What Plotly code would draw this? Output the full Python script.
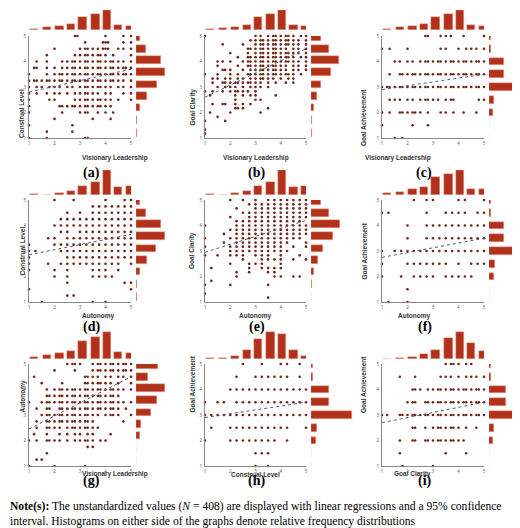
import plotly.graph_objects as go

# bar centres shared by the marginal histograms
bins9 = [1.2, 1.7, 2.2, 2.65, 3.1, 3.6, 4.05, 4.5, 4.95]
bins_ga = [1.0, 1.5, 2.0, 2.5, 3.0, 3.5, 4.0, 4.5, 5.0]

x_titles = ["Visionary Leadership", "Visionary Leadership", "Visionary Leadership",
            "Autonomy", "Autonomy", "Autonomy",
            "Visionary Leadership", "Construal Level", "Goal Clarity"]
y_titles = ["Construal Level", "Goal Clarity", "Goal Achievement",
            "Construal Level", "Goal Clarity", "Goal Achievement",
            "Autonomy", "Goal Achievement", "Goal Achievement"]
labels = ["(a)", "(b)", "(c)", "(d)", "(e)", "(f)", "(g)", "(h)", "(i)"]

# regression line end points at x=1 and x=5
reg_y1 = [2.8, 2.6, 2.9, 2.85, 2.95, 2.75, 2.45, 2.9, 2.7]
reg_y5 = [3.7, 4.5, 3.5, 3.65, 4.2, 3.5, 4.5, 3.5, 3.5]

top_hist = [
    [3, 6, 10, 13, 30, 37, 46, 11, 10],
    [3, 5, 8, 12, 32, 40, 48, 12, 10],
    [3, 6, 10, 13, 30, 37, 46, 11, 10],
    [1, 0.5, 3, 6, 15, 20, 39, 12, 15],
    [1, 0.5, 3, 6, 15, 20, 39, 12, 15],
    [3, 5, 8, 11, 25, 30, 35, 9, 8],
    [3, 6, 10, 13, 30, 37, 46, 11, 10],
    [1, 1, 3, 9, 20, 28, 26, 9, 3],
    [0.5, 1, 2, 5, 10, 23, 30, 17, 9],
]
right_hist = [
    [0.5, 0.5, 3, 9, 17, 24, 20, 8, 3],
    [0.5, 1, 3, 6, 10, 20, 28, 18, 10],
    [0.5, 0.5, 5, 6, 50, 19, 19, 2, 2],
    [0.5, 1, 3, 9, 16, 24, 20, 8, 3],
    [0.5, 1, 3, 7, 12, 22, 30, 18, 10],
    [0.5, 0.5, 5, 6, 40, 16, 16, 2, 2],
    [0.5, 0.5, 4, 6, 17, 23, 33, 13, 25],
    [0.5, 0.5, 5, 6, 44, 19, 19, 2, 2],
    [0.5, 0.5, 5, 6, 44, 19, 19, 2, 2],
]
right_is_ga = [False, False, True, False, False, True, False, True, True]

# scatter points: rows of (y, [x values])
pts_a = [
    (5, [2.8, 2.9, 4.0, 4.7, 5.0]),
    (4.75, [3.2, 3.9, 4.0, 4.1, 4.7, 5.0]),
    (4.5, [2.0, 3.0, 3.2, 3.3, 3.5, 3.7, 3.9, 4.0, 4.1, 4.5, 4.7, 5.0]),
    (4.25, [1.7, 2.8, 3.0, 3.2, 3.3, 3.5, 3.7, 3.8, 4.0, 4.3, 5.0]),
    (4.0, [1.3, 1.7, 2.3, 2.5, 2.7, 2.8, 3.0, 3.2, 3.3, 3.5, 3.7, 3.8, 4.0, 4.2, 4.3, 4.5, 4.7, 5.0]),
    (3.75, [1.2, 1.3, 1.7, 2.0, 2.3, 2.5, 2.7, 2.8, 3.0, 3.2, 3.3, 3.5, 3.7, 3.8, 4.0, 4.2, 4.3, 4.5, 4.7, 4.8, 5.0]),
    (3.5, [1.0, 1.7, 2.0, 2.2, 2.3, 2.5, 2.7, 2.8, 3.0, 3.2, 3.3, 3.5, 3.7, 3.8, 4.0, 4.2, 4.3, 4.5, 4.7, 4.8, 5.0]),
    (3.25, [1.0, 1.2, 1.3, 1.5, 1.7, 1.8, 2.0, 2.2, 2.3, 2.5, 2.7, 2.8, 3.0, 3.2, 3.3, 3.5, 3.7, 3.8, 4.0, 4.2, 4.3, 4.5, 4.7, 5.0]),
    (3.0, [1.0, 1.3, 1.5, 1.8, 2.0, 2.2, 2.5, 2.7, 3.0, 3.2, 3.3, 3.5, 3.7, 3.8, 4.0, 4.2, 4.5, 4.7, 5.0]),
    (2.75, [1.0, 1.3, 1.7, 2.0, 2.2, 2.5, 2.8, 3.0, 3.2, 3.3, 3.5, 3.7, 4.0, 4.2, 4.7, 5.0]),
    (2.5, [1.0, 1.8, 2.0, 2.8, 3.0, 3.2, 3.3, 3.5, 3.7, 3.8, 4.0, 4.2, 4.5, 5.0]),
    (2.25, [1.0, 2.2, 2.3, 2.5, 2.7, 2.8, 3.0, 3.2, 3.3, 3.5, 3.7, 3.8, 4.0, 4.2]),
    (2.0, [1.0, 2.3, 3.0, 3.2, 3.3, 3.7, 4.0, 4.3]),
    (1.75, [2.0, 3.5, 4.2]),
    (1.5, [1.0, 2.7]),
    (1.25, [1.7, 2.7]),
    (1.0, [1.0, 1.7, 3.2, 3.3]),
]
pts_b = [
    (5, [1.0, 3.0, 3.2, 3.5, 3.7, 3.8, 4.0, 4.2, 4.3, 4.5, 4.8, 5.0]),
    (4.83, [2.8, 3.0, 3.2, 3.3, 3.5, 3.7, 3.8, 4.0, 4.2, 4.3, 4.5, 4.7, 5.0]),
    (4.67, [1.7, 2.5, 3.0, 3.2, 3.3, 3.5, 3.7, 3.8, 4.0, 4.2, 4.3, 4.5, 4.7, 5.0]),
    (4.5, [2.7, 2.8, 3.0, 3.2, 3.3, 3.5, 3.7, 3.8, 4.0, 4.2, 4.5, 4.7, 5.0]),
    (4.33, [2.0, 2.7, 3.0, 3.2, 3.3, 3.5, 3.7, 3.8, 4.0, 4.2, 4.3, 4.5, 4.7, 5.0]),
    (4.17, [2.3, 2.7, 2.8, 3.0, 3.2, 3.3, 3.5, 3.7, 3.8, 4.0, 4.2, 4.3, 4.5, 4.8, 5.0]),
    (4.0, [1.5, 1.7, 2.0, 2.5, 2.7, 2.8, 3.0, 3.2, 3.3, 3.5, 3.7, 3.8, 4.0, 4.2, 4.3, 4.5, 4.7, 5.0]),
    (3.83, [1.5, 2.3, 2.7, 2.8, 3.0, 3.2, 3.3, 3.5, 3.7, 3.8, 4.0, 4.2, 4.5, 4.7, 5.0]),
    (3.67, [1.7, 1.8, 2.0, 2.5, 2.8, 3.0, 3.2, 3.3, 3.5, 3.7, 3.8, 4.0, 4.2, 4.5, 4.7, 5.0]),
    (3.5, [1.0, 1.5, 2.0, 2.3, 2.7, 2.8, 3.0, 3.2, 3.3, 3.5, 3.7, 3.8, 4.0, 4.2, 4.3, 4.5, 4.8]),
    (3.33, [1.3, 1.5, 1.8, 2.0, 2.3, 2.5, 2.8, 3.0, 3.2, 3.3, 3.5, 3.7, 4.0, 4.3, 4.5]),
    (3.17, [1.3, 1.7, 1.8, 2.0, 2.2, 2.3, 2.5, 2.7, 2.8, 3.0, 3.2, 3.5, 3.8, 4.2, 4.5]),
    (3.0, [1.5, 1.8, 2.0, 2.2, 2.5, 2.8, 3.0, 3.2, 3.5]),
    (2.83, [1.0, 1.3, 1.7, 2.0, 2.2, 2.3, 2.5, 2.7, 3.0]),
    (2.67, [1.2, 2.2, 2.5, 2.8, 3.0, 3.8]),
    (2.5, [2.2, 3.0, 3.2]),
    (2.33, [1.3, 1.7, 1.8, 2.2, 2.5, 2.8]),
    (2.17, [2.2, 2.3, 2.5, 3.5]),
    (2.0, [1.2, 2.0, 3.2]),
    (1.83, [1.5]),
    (1.67, [1.0, 1.8]),
    (1.33, [1.0]),
    (1.17, [1.0]),
]
pts_c = [
    (5, [2.7, 2.8, 3.3, 3.5, 3.7, 4.2, 5.0]),
    (4.5, [1.0, 1.3, 2.0, 3.3, 3.5, 4.0, 4.3, 4.5, 4.7, 5.0]),
    (4.0, [1.5, 1.7, 2.0, 2.2, 2.5, 2.7, 2.8, 3.0, 3.2, 3.3, 3.5, 3.7, 3.8, 4.0, 4.2, 4.3, 4.5, 4.7, 4.8, 5.0]),
    (3.5, [1.3, 1.7, 1.8, 2.0, 2.2, 2.3, 2.5, 2.7, 2.8, 3.0, 3.2, 3.3, 3.5, 3.7, 3.8, 4.0, 4.2, 4.3, 4.5, 4.7, 4.8, 5.0]),
    (3.0, [1.0, 1.2, 1.3, 1.5, 1.7, 1.8, 2.0, 2.2, 2.3, 2.5, 2.7, 2.8, 3.0, 3.2, 3.3, 3.5, 3.7, 3.8, 4.0, 4.2, 4.3, 4.5, 4.7, 4.8, 5.0]),
    (2.5, [1.3, 1.5, 1.7, 2.0, 2.2, 2.5, 2.7, 2.8, 3.0, 3.2, 3.5, 3.7, 3.8, 4.8, 5.0]),
    (2.0, [1.0, 1.3, 1.7, 1.8, 2.0, 2.2, 2.3, 2.5, 2.8, 3.3, 3.5, 3.8, 4.2, 4.7]),
    (1.5, [1.0, 2.2, 2.8]),
    (1.0, [1.5, 1.8]),
]
pts_d = [
    (5, [2.0, 2.75, 4.0, 4.75, 5.0]),
    (4.75, [3.5, 3.75, 4.0, 4.25, 4.5, 4.75, 5.0]),
    (4.5, [2.5, 3.0, 3.5, 3.75, 4.0, 4.25, 4.5, 4.75, 5.0]),
    (4.25, [2.25, 2.5, 2.75, 3.0, 3.25, 3.5, 3.75, 4.0, 4.25, 4.5, 4.75, 5.0]),
    (4.0, [2.0, 2.25, 2.5, 2.75, 3.0, 3.25, 3.5, 3.75, 4.0, 4.25, 4.5, 4.75, 5.0]),
    (3.75, [2.25, 2.5, 3.0, 3.25, 3.5, 3.75, 4.0, 4.25, 4.5, 4.75, 5.0]),
    (3.5, [1.75, 2.0, 2.5, 2.75, 3.0, 3.25, 3.5, 3.75, 4.0, 4.25, 4.5, 4.75, 5.0]),
    (3.25, [1.0, 2.0, 2.25, 2.5, 2.75, 3.0, 3.25, 3.5, 3.75, 4.0, 4.25, 4.5, 4.75, 5.0]),
    (3.0, [1.0, 1.25, 2.25, 2.5, 2.75, 3.0, 3.25, 3.5, 3.75, 4.0, 4.25, 4.5, 4.75, 5.0]),
    (2.75, [1.0, 2.5, 2.75, 3.0, 3.25, 3.5, 3.75, 4.0, 4.25, 4.5, 4.75, 5.0]),
    (2.5, [1.0, 1.75, 2.25, 2.5, 2.75, 3.0, 3.25, 3.5, 3.75, 4.0, 4.25, 4.5, 5.0]),
    (2.25, [1.0, 2.0, 2.5, 3.5, 3.75, 4.0, 4.5]),
    (2.0, [2.0, 2.5, 3.5, 3.75, 4.0, 4.25]),
    (1.75, [2.5, 4.75, 5.0]),
    (1.5, [1.0, 5.0]),
    (1.25, [2.5, 2.75]),
    (1.0, [1.5, 3.5, 4.0]),
]
pts_e = [
    (5, [2.0, 2.5, 3.0, 3.5, 3.75, 4.0, 4.25, 4.5, 4.75, 5.0]),
    (4.83, [2.75, 3.0, 3.25, 3.5, 3.75, 4.0, 4.25, 4.5, 4.75, 5.0]),
    (4.67, [2.25, 3.0, 3.25, 3.5, 3.75, 4.0, 4.25, 4.5, 4.75, 5.0]),
    (4.5, [2.5, 2.75, 3.0, 3.25, 3.5, 3.75, 4.0, 4.25, 4.5, 4.75, 5.0]),
    (4.33, [2.0, 2.75, 3.0, 3.25, 3.5, 3.75, 4.0, 4.25, 4.5, 4.75, 5.0]),
    (4.17, [2.25, 2.5, 2.75, 3.0, 3.25, 3.5, 3.75, 4.0, 4.25, 4.5, 4.75]),
    (4.0, [1.0, 2.25, 2.5, 2.75, 3.0, 3.25, 3.5, 3.75, 4.0, 4.25, 4.5, 4.75, 5.0]),
    (3.83, [2.0, 2.25, 2.5, 2.75, 3.0, 3.25, 3.5, 3.75, 4.0, 4.25, 4.5, 4.75, 5.0]),
    (3.67, [1.75, 2.25, 2.5, 2.75, 3.0, 3.25, 3.5, 3.75, 4.0, 4.25, 4.5, 4.75, 5.0]),
    (3.5, [1.0, 2.0, 2.25, 2.5, 2.75, 3.0, 3.25, 3.5, 3.75, 4.0, 4.25, 4.5, 4.75]),
    (3.33, [1.75, 2.25, 2.5, 2.75, 3.0, 3.25, 3.5, 3.75, 4.0, 4.25, 5.0]),
    (3.17, [1.0, 2.0, 2.25, 2.5, 2.75, 3.0, 3.25, 3.5, 3.75, 4.0, 4.5, 5.0]),
    (3.0, [2.0, 2.25, 2.5, 2.75, 3.0, 3.25, 3.5, 3.75, 4.0, 4.25]),
    (2.83, [1.0, 1.5, 2.0, 2.25, 2.5, 3.0, 3.25, 3.5, 4.0, 4.75]),
    (2.67, [2.5, 3.25, 3.5, 3.75, 4.0, 4.5, 5.0]),
    (2.5, [2.0, 2.75, 3.0, 3.25, 4.0]),
    (2.33, [1.25, 2.75, 3.25, 3.5, 3.75, 4.0]),
    (2.17, [2.25, 2.75, 3.5, 3.75]),
    (2.0, [2.25, 3.75, 4.0, 4.5, 4.75]),
    (1.83, [1.25]),
    (1.67, [1.0, 2.0, 3.5]),
    (1.33, [1.0]),
    (1.17, [3.5]),
]
pts_f = [
    (5, [2.25, 2.75, 3.0, 4.0, 4.25, 5.0]),
    (4.5, [1.0, 1.25, 2.75, 3.5, 3.75, 4.0, 4.25, 4.75, 5.0]),
    (4.0, [2.0, 2.75, 3.0, 3.25, 3.5, 3.75, 4.0, 4.25, 4.5, 4.75, 5.0]),
    (3.5, [2.0, 2.75, 3.0, 3.25, 3.5, 3.75, 4.0, 4.25, 4.5, 4.75, 5.0]),
    (3.0, [1.0, 1.5, 1.75, 2.0, 2.25, 2.5, 2.75, 3.0, 3.25, 3.5, 3.75, 4.0, 4.25, 4.5, 4.75, 5.0]),
    (2.5, [1.0, 2.0, 2.25, 2.5, 2.75, 3.0, 3.25, 3.5, 4.0, 4.5, 4.75, 5.0]),
    (2.0, [1.0, 1.75, 2.25, 2.5, 2.75, 3.0, 3.5, 3.75, 4.0, 4.25, 4.5]),
    (1.5, [2.0]),
    (1.0, [1.25, 2.0]),
]
pts_g = [
    (5, [2.5, 2.7, 2.8, 3.0, 3.5, 3.7, 3.8, 4.0, 4.2, 4.3, 4.5, 4.7, 4.8, 5.0]),
    (4.75, [2.0, 2.8, 3.5, 3.7, 3.8, 4.0, 4.2, 4.3, 4.5, 4.7, 4.8, 5.0]),
    (4.5, [1.2, 3.2, 3.3, 3.5, 3.7, 4.0, 4.2, 4.5, 4.7, 5.0]),
    (4.25, [1.5, 2.3, 3.2, 3.3, 3.5, 3.7, 3.8, 4.0, 4.2, 4.5, 5.0]),
    (4.0, [1.7, 2.0, 2.2, 2.3, 2.5, 2.7, 2.8, 3.0, 3.2, 3.3, 3.5, 3.7, 3.8, 4.0, 4.2, 4.3, 4.5, 4.7, 5.0]),
    (3.75, [1.7, 1.8, 2.0, 2.2, 2.3, 2.5, 2.7, 2.8, 3.0, 3.2, 3.3, 3.5, 3.7, 3.8, 4.0, 4.2, 4.3, 4.5]),
    (3.5, [1.0, 1.5, 1.7, 1.8, 2.0, 2.2, 2.3, 2.5, 2.7, 2.8, 3.0, 3.2, 3.3, 3.5, 3.7, 3.8, 4.0, 4.2, 4.3, 4.5, 4.7, 5.0]),
    (3.25, [1.3, 1.7, 1.8, 2.2, 2.3, 2.5, 2.7, 2.8, 3.0, 3.2, 3.3, 3.5, 3.7, 3.8, 4.0, 4.2, 4.3, 4.5, 4.8]),
    (3.0, [1.5, 1.7, 1.8, 2.0, 2.2, 2.3, 2.5, 2.7, 2.8, 3.0, 3.2, 3.3, 3.5, 3.7, 4.0, 4.2, 4.3, 4.5, 5.0]),
    (2.75, [1.3, 1.7, 1.8, 2.0, 2.2, 2.3, 2.5, 2.7, 2.8, 3.0, 3.2, 3.3, 3.5, 4.7]),
    (2.5, [1.3, 1.7, 1.8, 2.0, 2.2, 2.5, 2.7, 2.8, 3.0, 3.2, 3.3, 3.5, 3.7]),
    (2.25, [1.2, 1.7, 2.2, 2.5, 2.8, 3.0, 3.3, 3.5, 4.2]),
    (2.0, [1.0, 1.3, 1.7, 1.8, 2.0, 2.2, 2.5, 2.8, 3.0, 3.2, 3.3, 3.5, 3.8, 4.0]),
    (1.75, [3.3, 3.5]),
    (1.5, [1.7]),
    (1.25, [1.3, 1.5]),
    (1.0, [1.0, 2.0, 3.2]),
]
pts_h = [
    (5, [2.5, 3.25, 4.0, 4.25, 4.75]),
    (4.5, [2.25, 3.0, 3.25, 3.5, 3.75, 4.0, 4.25, 4.75]),
    (4.0, [2.0, 2.25, 2.5, 2.75, 3.0, 3.25, 3.5, 3.75, 4.0, 4.25, 4.5, 4.75, 5.0]),
    (3.5, [1.0, 1.5, 1.75, 2.25, 2.5, 2.75, 3.0, 3.25, 3.5, 3.75, 4.0, 4.25, 4.5, 4.75, 5.0]),
    (3.0, [1.0, 1.25, 1.5, 1.75, 2.0, 2.25, 2.5, 2.75, 3.0, 3.25, 3.5, 3.75, 4.0, 4.25, 4.5, 4.75, 5.0]),
    (2.5, [1.25, 2.0, 2.25, 2.5, 2.75, 3.0, 3.25, 3.5, 3.75, 4.0, 4.25, 5.0]),
    (2.0, [1.0, 2.0, 2.25, 2.5, 2.75, 3.0, 3.25, 3.5, 3.75, 4.25]),
    (1.5, [3.0, 3.25, 3.5]),
    (1.0, [3.0, 3.5]),
]
pts_i = [
    (5, [3.5, 3.7, 3.8, 4.0, 4.3, 4.5]),
    (4.5, [1.7, 2.3, 3.3, 3.5, 3.7, 4.0, 4.3, 4.5, 4.7, 5.0]),
    (4.0, [2.2, 2.3, 2.5, 2.8, 3.0, 3.2, 3.3, 3.5, 3.7, 3.8, 4.0, 4.2, 4.3, 4.5, 4.7, 4.8, 5.0]),
    (3.5, [2.0, 2.2, 2.3, 2.7, 2.8, 3.0, 3.2, 3.3, 3.5, 3.7, 3.8, 4.0, 4.2, 4.3, 4.5, 4.7, 4.8, 5.0]),
    (3.0, [1.0, 1.2, 1.7, 1.8, 2.0, 2.2, 2.3, 2.5, 2.7, 2.8, 3.0, 3.2, 3.3, 3.5, 3.7, 3.8, 4.0, 4.2, 4.3, 4.5, 4.7, 4.8, 5.0]),
    (2.5, [2.2, 2.3, 2.7, 3.0, 3.2, 3.3, 3.5, 3.7, 3.8, 4.0, 4.3, 4.7]),
    (2.0, [1.7, 2.2, 2.3, 2.7, 2.8, 3.0, 3.2, 3.3, 3.5, 3.7, 3.8, 4.0, 4.2]),
    (1.5, [1.7, 3.5, 4.3]),
    (1.0, [1.8, 3.0]),
]
points = [pts_a, pts_b, pts_c, pts_d, pts_e, pts_f, pts_g, pts_h, pts_i]

W, H = 520, 528
col_x = [(21, 123), (197, 298), (374, 476)]      # scatter x pixel span per column
right_w = [30, 29, 43, 30, 30, 40, 30, 42, 42]   # pixel width of right histogram
row_y = [(28, 130), (192, 294), (356, 458)]      # scatter y pixel span (top, bottom)
top_h = [(2, 22), (162, 187), (323, 351)]        # top histogram pixel span

BAR = "#b3301a"
DOT = "#6e2418"

def fx(p):
    return p / W

def fy(p):
    return 1 - p / H

fig = go.Figure()
layout = {}
annotations = []

for k in range(9):
    r, c = divmod(k, 3)
    x0, x1 = col_x[c]
    yt, yb = row_y[r]
    n1, n2, n3 = 3 * k + 1, 3 * k + 2, 3 * k + 3
    s = lambda n: "" if n == 1 else str(n)

    xs, ys = [], []
    for yv, row in points[k]:
        for xv in row:
            xs.append(xv)
            ys.append(yv)
    fig.add_trace(go.Scatter(x=xs, y=ys, mode="markers", xaxis="x" + s(n1), yaxis="y" + s(n1),
                             marker=dict(size=2.6, color=DOT), cliponaxis=False, showlegend=False))
    fig.add_trace(go.Scatter(x=[1, 5], y=[reg_y1[k], reg_y5[k]], mode="lines",
                             xaxis="x" + s(n1), yaxis="y" + s(n1),
                             line=dict(color="#4d5a78", width=1, dash="dot"), showlegend=False))
    fig.add_trace(go.Bar(x=bins9, y=top_hist[k], width=0.33, xaxis="x" + s(n2), yaxis="y" + s(n2),
                         marker=dict(color=BAR, line=dict(color="#e8b0a0", width=0.5)), showlegend=False))
    rb = bins_ga if right_is_ga[k] else bins9
    fig.add_trace(go.Bar(y=rb, x=right_hist[k], width=0.3, orientation="h",
                         xaxis="x" + s(n3), yaxis="y" + s(n3),
                         marker=dict(color=BAR, line=dict(color="#e8b0a0", width=0.5)), showlegend=False))

    ax = dict(range=[1, 5], tickvals=[1, 2, 3, 4, 5], tickfont=dict(size=4.5, color="#555"),
              showline=True, linecolor="#888", linewidth=1, showgrid=False, zeroline=False,
              ticks="", ticklabelstandoff=1, automargin=False)
    layout["xaxis" + s(n1)] = dict(ax, domain=[fx(x0), fx(x1)], anchor="y" + s(n1))
    layout["yaxis" + s(n1)] = dict(ax, domain=[fy(yb), fy(yt)], anchor="x" + s(n1))
    hid = dict(visible=False, showgrid=False, zeroline=False, automargin=False)
    layout["xaxis" + s(n2)] = dict(hid, range=[1, 5], domain=[fx(x0), fx(x1)], anchor="y" + s(n2))
    layout["yaxis" + s(n2)] = dict(hid, range=[0, max(top_hist[k]) * 1.02],
                                   domain=[fy(top_h[r][1]), fy(top_h[r][0])], anchor="x" + s(n2))
    layout["xaxis" + s(n3)] = dict(hid, range=[0, max(right_hist[k]) * 1.02],
                                   domain=[fx(x1 + 5), min(fx(x1 + 5 + right_w[k]), 1)], anchor="y" + s(n3))
    layout["yaxis" + s(n3)] = dict(hid, range=[1, 5], domain=[fy(yb), fy(yt)], anchor="x" + s(n3))

    annotations.append(dict(text="<b>%s</b>" % x_titles[k], x=fx((x0 + x1) / 2), y=fy(yb + 14),
                            xref="paper", yref="paper", showarrow=False,
                            font=dict(size=6.5, color="#333", family="Arial")))
    annotations.append(dict(text="<b>%s</b>" % y_titles[k], x=fx(x0 - 13), y=fy((yt + yb) / 2),
                            xref="paper", yref="paper", showarrow=False, textangle=-90,
                            font=dict(size=6.5, color="#333", family="Arial")))
    annotations.append(dict(text="<b>%s</b>" % labels[k], x=fx((x0 + x1) / 2 + 1), y=fy(yb + 25),
                            xref="paper", yref="paper", showarrow=False,
                            font=dict(size=14, color="black", family="Liberation Serif")))

annotations.append(dict(
    text="<b>Note(s):</b> The unstandardized values (<i>N</i> = 408) are displayed with linear regressions and a 95% confidence"
         "<br>interval. Histograms on either side of the graphs denote relative frequency distributions",
    x=0, y=fy(490), xref="paper", yref="paper", xanchor="left", yanchor="top", align="left",
    showarrow=False, font=dict(size=11.6, color="black", family="Liberation Serif")))

fig.update_layout(layout)
fig.update_layout(width=W, height=H, margin=dict(l=0, r=0, t=0, b=0), bargap=0,
                  paper_bgcolor="white", plot_bgcolor="white", annotations=annotations)
fig.write_html("out.html")
